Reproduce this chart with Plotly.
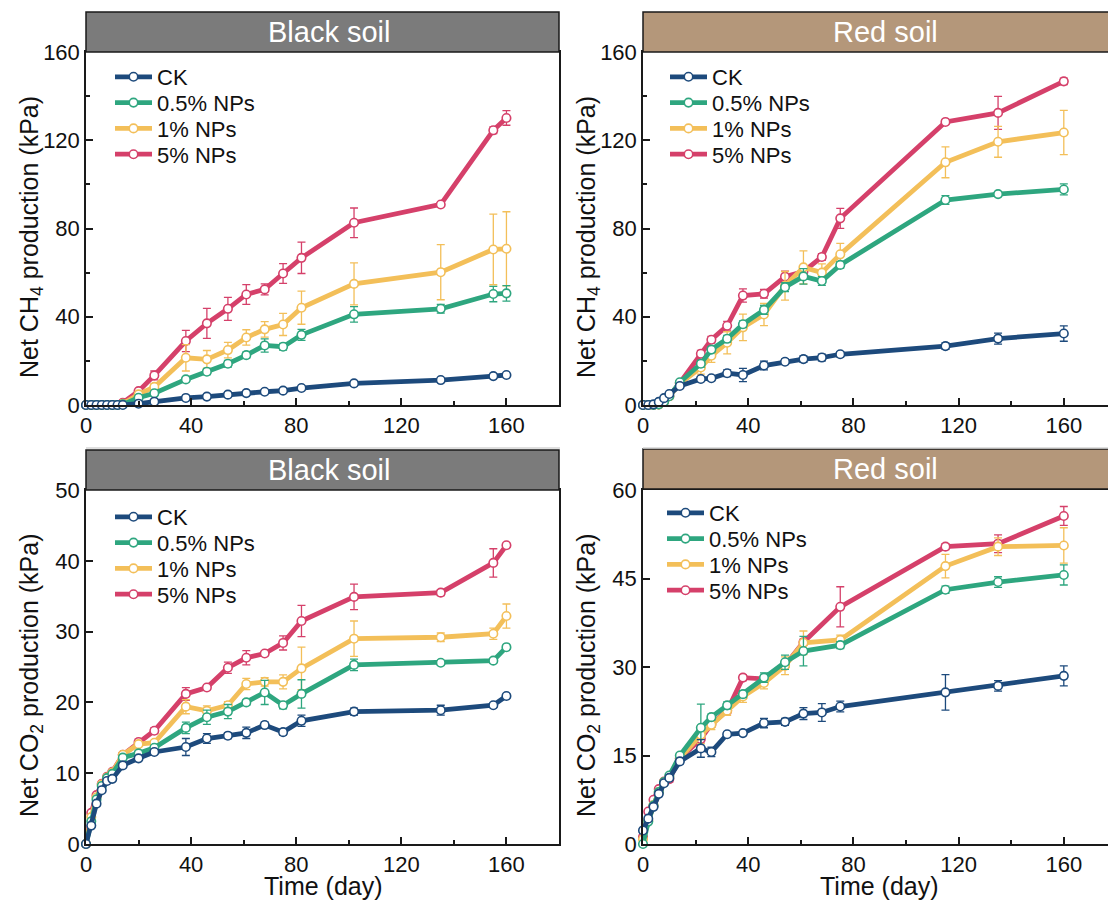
import plotly.graph_objects as go

# ---------------- data ----------------
series_names = ["CK", "0.5% NPs", "1% NPs", "5% NPs"]
series_colors = ["#1d4a7c", "#2ea67f", "#f3bf59", "#d5406a"]

# Time points (day)
t_ch4_black = [0, 2, 4, 6, 8, 10, 12, 14, 20, 26, 38, 46, 54, 61, 68, 75, 82, 102, 135, 155, 160]
t_co2_black = [0, 2, 4, 6, 8, 10, 14, 20, 26, 38, 46, 54, 61, 68, 75, 82, 102, 135, 155, 160]
t_red = [0, 2, 4, 6, 8, 10, 14, 22, 26, 32, 38, 46, 54, 61, 68, 75, 115, 135, 160]

# Net CH4 production (kPa) - Black soil
ch4_black_ck = [0, 0, 0, 0, 0, 0, 0, 0, 0.6, 1.5, 3.2, 3.8, 4.7, 5.4, 6.0, 6.5, 7.7, 9.8, 11.3, 13.1, 13.6]
ch4_black_ck_err = [0, 0, 0, 0, 0, 0, 0, 0, 0.2, 0.3, 0.3, 0.5, 0.5, 0.4, 0.4, 0.4, 0.4, 0.5, 0.6, 0.6, 0.5]
ch4_black_05 = [0, 0, 0, 0, 0, 0, 0, 0.3, 3.3, 5.3, 11.6, 15.1, 18.7, 22.6, 27.0, 26.4, 31.8, 41.1, 43.6, 50.3, 50.6]
ch4_black_05_err = [0, 0, 0, 0, 0, 0, 0, 0.2, 0.5, 0.8, 1.0, 1.3, 1.5, 1.3, 3.0, 1.5, 2.5, 3.5, 2.0, 3.5, 3.5]
ch4_black_1 = [0, 0, 0, 0, 0, 0, 0, 0.5, 4.8, 8.2, 21.4, 20.7, 24.9, 30.6, 34.3, 36.5, 44.1, 54.9, 60.2, 70.5, 70.8]
ch4_black_1_err = [0, 0, 0, 0, 0, 0, 0, 0.3, 0.8, 1.5, 6.0, 4.0, 3.5, 3.5, 3.5, 5.0, 7.5, 9.5, 12.5, 16.0, 16.8]
ch4_black_5 = [0, 0, 0, 0, 0, 0, 0, 1.0, 6.3, 13.4, 29.0, 37.0, 43.6, 50.1, 52.4, 59.6, 66.7, 82.6, 90.9, 124.5, 130.1]
ch4_black_5_err = [0, 0, 0, 0, 0, 0, 0, 0.3, 0.8, 2.0, 4.8, 6.8, 5.2, 4.5, 2.5, 4.5, 7.1, 6.7, 0.5, 1.5, 3.3]

# Net CH4 production (kPa) - Red soil
ch4_red_ck = [0, 0, 0.3, 1.4, 3.1, 5.0, 8.6, 11.8, 12.1, 14.4, 13.6, 17.9, 19.6, 20.8, 21.5, 23.0, 26.7, 30.1, 32.4]
ch4_red_ck_err = [0, 0, 0, 0.3, 0.4, 0.5, 0.8, 1.0, 1.0, 1.5, 3.0, 2.0, 1.2, 1.5, 1.5, 1.2, 1.5, 2.5, 3.5]
ch4_red_05 = [0, 0, 0, 0.3, 1.5, 4.0, 10.3, 18.7, 25.1, 30.0, 36.6, 43.1, 53.4, 58.3, 56.2, 63.5, 92.9, 95.6, 97.7]
ch4_red_05_err = [0, 0, 0, 0, 0.3, 0.5, 0.8, 1.5, 1.2, 1.5, 1.5, 2.0, 2.0, 3.5, 2.0, 1.5, 2.0, 1.0, 2.5]
ch4_red_1 = [0, 0, 0, 0.3, 1.5, 4.0, 9.6, 17.0, 22.3, 28.2, 35.2, 41.0, 54.0, 62.4, 60.0, 68.3, 110.0, 119.3, 123.5]
ch4_red_1_err = [0, 0, 0, 0, 0.3, 0.5, 0.5, 3.0, 3.0, 5.0, 6.0, 5.0, 6.5, 7.5, 4.0, 5.0, 7.0, 7.0, 10.0]
ch4_red_5 = [0, 0, 0, 0.3, 1.5, 4.0, 10.0, 23.2, 29.6, 35.9, 49.6, 50.4, 58.2, 60.5, 67.1, 84.6, 128.3, 132.4, 146.7]
ch4_red_5_err = [0, 0, 0, 0, 0.3, 0.5, 0.5, 1.5, 1.5, 2.0, 3.0, 2.0, 2.5, 1.5, 1.5, 4.5, 1.0, 7.5, 1.5]

# Net CO2 production (kPa) - Black soil
co2_black_ck = [0, 2.6, 5.7, 7.6, 8.9, 9.2, 11.1, 12.1, 13.0, 13.7, 14.9, 15.3, 15.7, 16.8, 15.8, 17.4, 18.7, 18.9, 19.6, 20.9]
co2_black_ck_err = [0, 0.2, 0.3, 0.3, 0.3, 0.3, 0.3, 0.3, 0.3, 1.2, 0.7, 0.4, 0.8, 0.4, 0.4, 0.8, 0.5, 0.7, 0.3, 0.3]
co2_black_05 = [0, 3.2, 6.3, 8.2, 9.3, 9.9, 12.2, 12.8, 13.6, 16.4, 17.9, 18.7, 20.0, 21.4, 19.6, 21.2, 25.3, 25.6, 25.9, 27.8]
co2_black_05_err = [0, 0.2, 0.2, 0.2, 0.2, 0.2, 0.3, 0.3, 0.3, 0.8, 1.0, 1.0, 0.4, 1.7, 0.5, 2.0, 0.8, 0.3, 0.3, 0.3]
co2_black_1 = [0, 3.8, 6.6, 8.4, 9.4, 10.1, 12.6, 14.1, 14.3, 19.4, 18.8, 19.6, 22.6, 22.9, 22.9, 24.8, 29.0, 29.2, 29.7, 32.2]
co2_black_1_err = [0, 0.2, 0.2, 0.2, 0.2, 0.2, 0.3, 0.3, 0.3, 1.0, 0.7, 0.5, 0.8, 0.6, 1.0, 3.0, 2.5, 0.6, 0.8, 1.7]
co2_black_5 = [0, 4.4, 6.9, 8.5, 9.5, 10.2, 12.6, 14.4, 16.0, 21.2, 22.1, 24.9, 26.3, 26.9, 28.4, 31.5, 34.9, 35.5, 39.7, 42.2]
co2_black_5_err = [0, 0.2, 0.2, 0.2, 0.2, 0.2, 0.3, 0.4, 0.4, 0.9, 0.3, 0.8, 1.0, 0.3, 1.0, 2.2, 1.8, 0.4, 2.0, 0.3]

# Net CO2 production (kPa) - Red soil (None = not sampled)
co2_red_ck = [2.3, 4.3, 6.3, 8.5, 10.3, 11.2, 14.0, 16.2, 15.6, 18.6, 18.8, 20.5, 20.7, 22.1, 22.3, 23.3, 25.7, 26.8, 28.5]
co2_red_ck_err = [0.2, 0.2, 0.2, 0.3, 0.3, 0.3, 0.4, 1.5, 0.8, 0.4, 0.4, 0.8, 0.6, 1.0, 1.5, 0.9, 3.0, 0.9, 1.7]
co2_red_05 = [0, 3.8, 6.5, 8.8, 10.5, 11.6, 15.0, 19.7, 21.5, 23.5, 25.4, 28.2, 30.8, 32.7, None, 33.7, 43.1, 44.4, 45.6]
co2_red_05_err = [0, 0.2, 0.3, 0.3, 0.3, 0.3, 0.4, 4.0, 0.5, 0.6, 0.6, 0.8, 1.2, 2.5, None, 0.6, 0.6, 0.9, 1.7]
co2_red_1 = [0.8, 4.0, 6.6, 8.8, 10.5, 11.4, 14.5, 18.5, 20.2, 22.6, 25.0, 27.3, 30.2, 34.1, None, 34.6, 47.1, 50.4, 50.6]
co2_red_1_err = [0.2, 0.2, 0.3, 0.3, 0.3, 0.3, 0.4, 1.5, 0.8, 0.8, 1.0, 1.0, 1.5, 2.0, None, 0.8, 2.0, 1.5, 3.0]
co2_red_5 = [1.2, 5.5, 7.5, 9.3, 10.6, 11.0, 14.5, 17.8, 20.3, 22.6, 28.2, 28.0, 30.3, 34.2, None, 40.2, 50.4, 50.9, 55.6]
co2_red_5_err = [0.2, 0.3, 0.3, 0.3, 0.3, 0.5, 0.4, 0.5, 0.5, 0.5, 0.5, 0.5, 0.5, 0.5, None, 3.4, 0.5, 1.5, 1.6]

# ---------------- figure ----------------
W, H = 1108, 906
FONT = "Liberation Sans, Arial, sans-serif"


def px_x(p):
    return p / W


def px_y(p):
    return (H - p) / H


fig = go.Figure()

# axis suffix, times, values, errors, legend x (px), first legend row centre (px)
panels = [
    ("", t_ch4_black, [ch4_black_ck, ch4_black_05, ch4_black_1, ch4_black_5],
     [ch4_black_ck_err, ch4_black_05_err, ch4_black_1_err, ch4_black_5_err], 110, 77),
    ("2", t_red, [ch4_red_ck, ch4_red_05, ch4_red_1, ch4_red_5],
     [ch4_red_ck_err, ch4_red_05_err, ch4_red_1_err, ch4_red_5_err], 665, 77),
    ("3", t_co2_black, [co2_black_ck, co2_black_05, co2_black_1, co2_black_5],
     [co2_black_ck_err, co2_black_05_err, co2_black_1_err, co2_black_5_err], 110, 517),
    ("4", t_red, [co2_red_ck, co2_red_05, co2_red_1, co2_red_5],
     [co2_red_ck_err, co2_red_05_err, co2_red_1_err, co2_red_5_err], 662, 513),
]
ROW_GAP = 25.8

legend_layouts = {}
leg_counter = 0
for suffix, tt, vals, errs, lx, ly in panels:
    legend_ids = []
    for i in range(4):
        leg_counter += 1
        lid = "legend" if leg_counter == 1 else "legend%d" % leg_counter
        legend_ids.append(lid)
        legend_layouts[lid] = dict(
            x=px_x(lx), y=px_y(ly + i * ROW_GAP), xanchor="left", yanchor="middle",
            bgcolor="rgba(0,0,0,0)", borderwidth=0,
            font=dict(family=FONT, size=22, color="#111"), itemwidth=37)
    for i in reversed(range(4)):
        fig.add_trace(go.Scatter(
            x=tt, y=vals[i], name=series_names[i], mode="lines+markers",
            xaxis="x" + suffix, yaxis="y" + suffix, legend=legend_ids[i],
            connectgaps=True, cliponaxis=False,
            line=dict(color=series_colors[i], width=4.8),
            marker=dict(symbol="circle", size=8.5, color="white",
                        line=dict(color=series_colors[i], width=1.6)),
            error_y=dict(type="data", array=errs[i], visible=True,
                         color=series_colors[i], thickness=1.3, width=4),
        ))

AX = dict(showline=True, linecolor="#1a1a1a", linewidth=1.5, ticks="inside",
          ticklen=7, tickwidth=1.5, tickcolor="#1a1a1a", showgrid=False,
          zeroline=False, automargin=False,
          tickfont=dict(family=FONT, size=22, color="#111"))

left_dom = [px_x(86), px_x(559)]
right_dom = [px_x(643), 1.0]
top_dom = [px_y(405), px_y(52)]
bot_dom = [px_y(844), px_y(490)]

xminor = dict(dtick=20, ticks="inside", ticklen=4, tickwidth=1.5, tickcolor="#1a1a1a")

fig.update_layout(
    xaxis=dict(AX, domain=left_dom, range=[0, 180], dtick=40, tick0=0, mirror=True,
               minor=xminor, anchor="y"),
    yaxis=dict(AX, domain=top_dom, range=[0, 160], dtick=40, tick0=0, mirror=True,
               minor=xminor, anchor="x"),
    xaxis2=dict(AX, domain=right_dom, range=[0, 176.8], dtick=40, tick0=0, mirror=True,
                minor=xminor, anchor="y2"),
    yaxis2=dict(AX, domain=top_dom, range=[0, 160], dtick=40, tick0=0,
                minor=xminor, anchor="x2"),
    xaxis3=dict(AX, domain=left_dom, range=[0, 180], dtick=40, tick0=0, mirror=True,
                minor=xminor, anchor="y3"),
    yaxis3=dict(AX, domain=bot_dom, range=[0, 50], dtick=10, tick0=0, mirror=True,
                anchor="x3"),
    xaxis4=dict(AX, domain=right_dom, range=[0, 176.8], dtick=40, tick0=0, mirror=True,
                minor=xminor, anchor="y4"),
    yaxis4=dict(AX, domain=bot_dom, range=[0, 60], dtick=15, tick0=0, anchor="x4"),
)
fig.update_layout(**legend_layouts)

# Header strips
headers = [
    ("Black soil", "#7b7b7b", 86, 559, 12, 52, 329),
    ("Red soil", "#b4977a", 643, 1130, 12, 52, 885),
    ("Black soil", "#7b7b7b", 86, 559, 450, 490, 329),
    ("Red soil", "#b4977a", 643, 1130, 449, 489, 885),
]
shapes = []
annotations = []
for text, col, x0, x1, y0, y1, xc in headers:
    shapes.append(dict(type="rect", xref="paper", yref="paper",
                       x0=px_x(x0), x1=px_x(x1), y0=px_y(y1), y1=px_y(y0),
                       fillcolor=col, line=dict(color="#1a1a1a", width=1.5), layer="above"))
    annotations.append(dict(text=text, xref="paper", yref="paper", x=px_x(xc),
                            y=px_y((y0 + y1) / 2), xanchor="center", yanchor="middle",
                            showarrow=False, font=dict(family=FONT, size=29, color="white")))

# faint separator line under the top row
for x0, x1 in [(86, 560), (643, 1130)]:
    shapes.append(dict(type="line", xref="paper", yref="paper", x0=px_x(x0), x1=px_x(x1),
                       y0=px_y(448), y1=px_y(448), line=dict(color="#d4d4d4", width=1.5)))

# Axis titles
ytitles = [
    ("Net CH<sub>4</sub> production (kPa)", 31, 237),
    ("Net CH<sub>4</sub> production (kPa)", 588, 237),
    ("Net CO<sub>2</sub> production (kPa)", 31, 676),
    ("Net CO<sub>2</sub> production (kPa)", 588, 676),
]
for text, xc, yc in ytitles:
    annotations.append(dict(text=text, xref="paper", yref="paper", x=px_x(xc), y=px_y(yc),
                            xanchor="center", yanchor="middle", textangle=-90,
                            showarrow=False, font=dict(family=FONT, size=25, color="#111")))
for xc in [323, 879]:
    annotations.append(dict(text="Time (day)", xref="paper", yref="paper", x=px_x(xc),
                            y=px_y(886), xanchor="center", yanchor="middle",
                            showarrow=False, font=dict(family=FONT, size=25, color="#111")))

fig.update_layout(
    width=W, height=H, margin=dict(l=0, r=0, t=0, b=0, autoexpand=False),
    paper_bgcolor="white", plot_bgcolor="white",
    shapes=shapes, annotations=annotations, showlegend=True,
    font=dict(family=FONT, color="#111"),
)

fig.write_html("out.html", config={"displayModeBar": False},
               post_script="document.body.style.margin='0px';")
